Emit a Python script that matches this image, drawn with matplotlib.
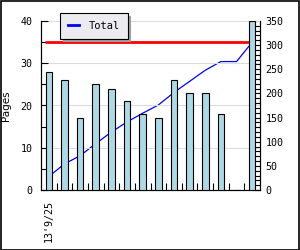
import matplotlib
matplotlib.use("Agg")
import matplotlib.pyplot as plt
from matplotlib.lines import Line2D
from matplotlib.patches import Rectangle
from matplotlib.ticker import MultipleLocator

# Pages per day (left axis) and running total (right axis)
pages = [28, 26, 17, 25, 24, 21, 18, 17, 26, 23, 23, 18, 0, 40]
total = [28, 54, 71, 96, 120, 141, 159, 176, 202, 225, 248, 266, 266, 306]
labels = ["13'9/25"] + [""] * 13
target = 35

mono = "DejaVu Sans Mono"
fs = 7.2

fig = plt.figure(figsize=(3.0, 2.5), dpi=100)
fig.patch.set_facecolor("white")

# left axis (bars) sits on top of the twin axis that carries the line
ax2 = fig.add_axes([41 / 300, 60 / 250, 219 / 300, 169 / 250])
ax = ax2.twinx()
ax.set_zorder(ax2.get_zorder() + 1)
ax.patch.set_visible(False)
ax2.patch.set_facecolor("white")
ax.xaxis.set_visible(True)
ax2.xaxis.set_visible(False)

x = list(range(len(pages)))

# running total on the right-hand scale
ax2.plot(x, total, color="#0000ff", lw=0.9)
ax2.set_ylim(0, 350)

# bars and target line on the left-hand scale
ax.hlines(target, -0.25, 12.8, color="#ff0000", lw=2, zorder=1)
ax.bar(x, pages, width=0.42, color="#add8e6", edgecolor="black", lw=0.8, zorder=3)
ax.set_ylim(0, 40)
ax.set_xlim(-0.5, len(pages) - 0.5)

# left axis on the left, right axis on the right
ax.yaxis.tick_left()
ax.yaxis.set_label_position("left")
ax2.yaxis.tick_right()

ax.yaxis.set_major_locator(MultipleLocator(10))
ax.yaxis.set_minor_locator(MultipleLocator(5))
ax.grid(axis="y", which="major", color="#dcdcdc", lw=0.8)
ax.set_axisbelow(True)
ax.tick_params(axis="y", which="both", direction="in", length=5, width=0.8,
               pad=6, labelsize=fs)
ax.set_ylabel("Pages", fontsize=7.5, labelpad=7)

ax2.yaxis.set_major_locator(MultipleLocator(50))
ax2.yaxis.set_minor_locator(MultipleLocator(10))
ax2.tick_params(axis="y", which="both", direction="in", length=4, width=0.8,
                pad=4, labelsize=fs)

ax.set_xticks(x)
ax.set_xticklabels(labels, rotation=90, fontsize=fs, family=mono)
ax.set_xticks([i - 0.5 for i in range(1, len(pages))], minor=True)
ax.tick_params(axis="x", which="major", length=0, pad=7)
ax.tick_params(axis="x", which="minor", direction="in", length=5, width=0.8)

for lab in ax.get_yticklabels() + ax2.get_yticklabels():
    lab.set_family(mono)

for a in (ax, ax2):
    a.spines["top"].set_visible(False)
    for s in ("left", "right", "bottom"):
        a.spines[s].set_linewidth(0.8)

# legend with drop shadow
handle = Line2D([], [], color="#0000ff", lw=2)
leg = fig.legend([handle], ["Total"], loc="upper left",
                 bbox_to_anchor=(60 / 300, 1 - 13 / 250),
                 prop={"family": mono, "size": 7.5},
                 frameon=True, fancybox=False, shadow={"color": "#a0a0a0", "alpha": 1},
                 edgecolor="black", facecolor="#ebebf0", framealpha=1,
                 handlelength=1.1, handletextpad=0.9, borderpad=0.75,
                 borderaxespad=0)
leg.get_frame().set_linewidth(0.8)

# outer frame
fig.patches.append(Rectangle((0.002, 0.002), 0.993, 0.994, transform=fig.transFigure,
                             fill=False, edgecolor="black", lw=1.2))

fig.savefig("out.png", dpi=100)
